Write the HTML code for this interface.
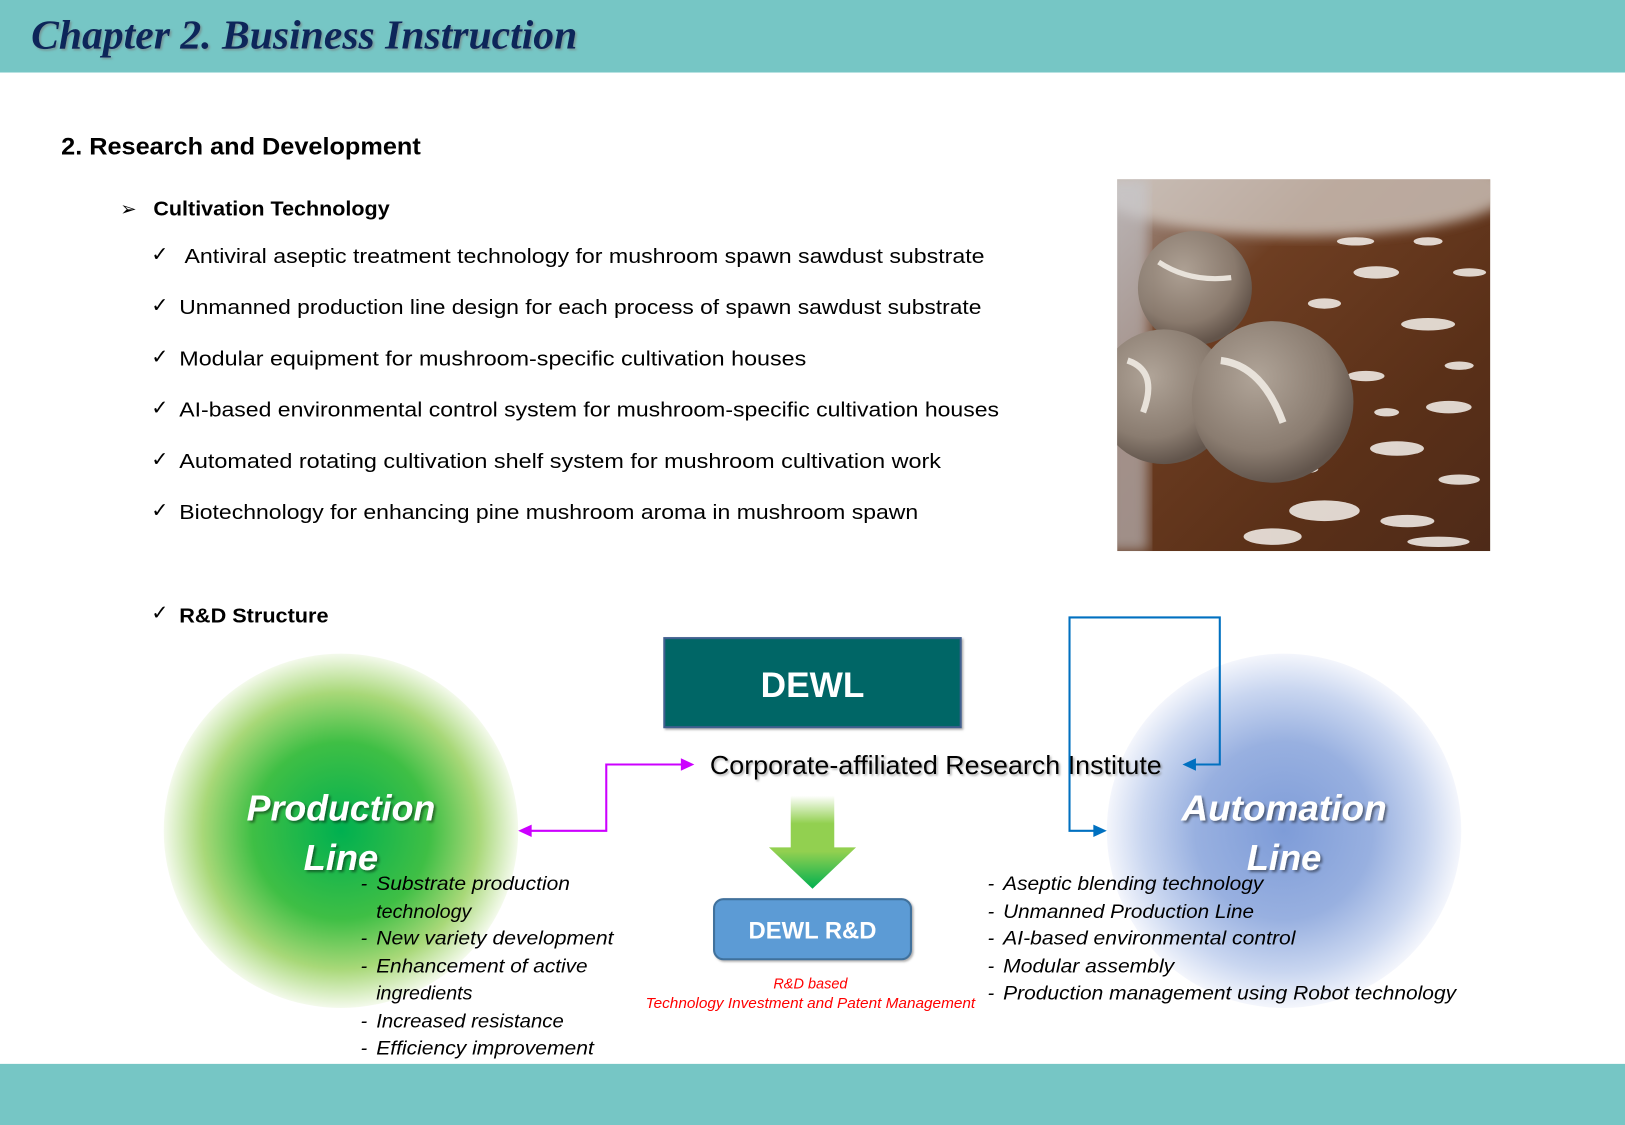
<!DOCTYPE html>
<html><head><meta charset="utf-8"><style>
html,body{margin:0;padding:0;background:#fff;}
svg{display:block;}
text{font-family:"Liberation Sans",sans-serif;}
</style></head><body>
<svg width="1625" height="1125" viewBox="0 0 1568 1086" preserveAspectRatio="none" xmlns="http://www.w3.org/2000/svg">
<defs>
<radialGradient id="gc" cx="0.5" cy="0.5" r="0.5">
<stop offset="0" stop-color="#00B050"/><stop offset="0.5" stop-color="#3FBF45"/><stop offset="0.78" stop-color="#A8D878"/><stop offset="1" stop-color="#F4FAEC"/>
</radialGradient>
<radialGradient id="bc" cx="0.5" cy="0.5" r="0.5">
<stop offset="0" stop-color="#7E9CD8"/><stop offset="0.5" stop-color="#98B0E0"/><stop offset="0.8" stop-color="#C9D6F0"/><stop offset="1" stop-color="#F4F6FC"/>
</radialGradient>
<linearGradient id="ga" x1="0" y1="0" x2="0" y2="1">
<stop offset="0" stop-color="#FFFFFF"/><stop offset="0.3" stop-color="#92D050"/><stop offset="0.6" stop-color="#92D050"/><stop offset="1" stop-color="#00B050"/>
</linearGradient>
<linearGradient id="bg" x1="0" y1="0" x2="1" y2="1">
<stop offset="0" stop-color="#A89890"/><stop offset="0.3" stop-color="#6E3E22"/><stop offset="0.7" stop-color="#5A3018"/><stop offset="1" stop-color="#4E2A18"/>
</linearGradient>
<radialGradient id="ms" cx="0.4" cy="0.35" r="0.65">
<stop offset="0" stop-color="#B0A498"/><stop offset="0.7" stop-color="#8A7C70"/><stop offset="1" stop-color="#62554C"/>
</radialGradient>
<filter id="sh"><feDropShadow dx="2" dy="2" stdDeviation="1.2" flood-color="#000" flood-opacity="0.45"/></filter>
<filter id="sh2"><feDropShadow dx="1.5" dy="1.5" stdDeviation="1" flood-color="#777" flood-opacity="0.6"/></filter>
<filter id="bl"><feGaussianBlur stdDeviation="6"/></filter>
</defs>
<rect x="0" y="0" width="1568" height="70" fill="#76C6C5"/>
<rect x="0" y="1027" width="1568" height="59" fill="#76C6C5"/>
<text x="30" y="47" style="font-family:'Liberation Serif',serif" font-weight="bold" font-style="italic" font-size="40" fill="#10285A" textLength="527" lengthAdjust="spacingAndGlyphs" filter="url(#sh2)">Chapter 2. Business Instruction</text>

<text x="59" y="149" font-weight="bold" font-size="23" fill="#000" textLength="347" lengthAdjust="spacingAndGlyphs">2. Research and Development</text>
<text x="116" y="208" font-size="19" fill="#000">➢</text>
<text x="148" y="208" font-weight="bold" font-size="20" textLength="228" lengthAdjust="spacingAndGlyphs">Cultivation Technology</text>
<g font-size="20" fill="#000">
<text x="146" y="252">✓</text><text x="178" y="254" textLength="772" lengthAdjust="spacingAndGlyphs">Antiviral aseptic treatment technology for mushroom spawn sawdust substrate</text>
<text x="146" y="301">✓</text><text x="173" y="303" textLength="774" lengthAdjust="spacingAndGlyphs">Unmanned production line design for each process of spawn sawdust substrate</text>
<text x="146" y="351">✓</text><text x="173" y="353" textLength="605" lengthAdjust="spacingAndGlyphs">Modular equipment for mushroom-specific cultivation houses</text>
<text x="146" y="400">✓</text><text x="173" y="402" textLength="791" lengthAdjust="spacingAndGlyphs">AI-based environmental control system for mushroom-specific cultivation houses</text>
<text x="146" y="450">✓</text><text x="173" y="452" textLength="735" lengthAdjust="spacingAndGlyphs">Automated rotating cultivation shelf system for mushroom cultivation work</text>
<text x="146" y="499">✓</text><text x="173" y="501" textLength="713" lengthAdjust="spacingAndGlyphs">Biotechnology for enhancing pine mushroom aroma in mushroom spawn</text>
<text x="146" y="598">✓</text><text x="173" y="601" font-weight="bold" textLength="144" lengthAdjust="spacingAndGlyphs">R&amp;D Structure</text>
</g>

<!-- mushroom photo -->
<svg x="1078" y="173" width="360" height="359" viewBox="0 0 360 359">
<rect width="360" height="359" fill="url(#bg)"/>
<ellipse cx="180" cy="10" rx="200" ry="45" fill="#D0C6BE" opacity="0.8" filter="url(#bl)"/>
<rect x="-10" y="0" width="40" height="359" fill="#C8CAD0" opacity="0.6" filter="url(#bl)"/>
<g fill="#EEE8E2" opacity="0.9">
<ellipse cx="250" cy="90" rx="22" ry="6"/><ellipse cx="300" cy="140" rx="26" ry="6"/><ellipse cx="200" cy="120" rx="16" ry="5"/>
<ellipse cx="320" cy="220" rx="22" ry="6"/><ellipse cx="270" cy="260" rx="26" ry="7"/><ellipse cx="330" cy="290" rx="20" ry="5"/>
<ellipse cx="200" cy="320" rx="34" ry="10"/><ellipse cx="280" cy="330" rx="26" ry="6"/><ellipse cx="150" cy="345" rx="28" ry="8"/>
<ellipse cx="340" cy="90" rx="16" ry="4"/><ellipse cx="240" cy="190" rx="18" ry="5"/><ellipse cx="330" cy="180" rx="14" ry="4"/>
<ellipse cx="230" cy="60" rx="18" ry="4"/><ellipse cx="300" cy="60" rx="14" ry="4"/><ellipse cx="260" cy="225" rx="12" ry="4"/>
<ellipse cx="310" cy="350" rx="30" ry="5"/><ellipse cx="180" cy="280" rx="14" ry="4"/>
</g>
<circle cx="75" cy="105" r="55" fill="url(#ms)" opacity="0.95"/>
<circle cx="45" cy="210" r="65" fill="url(#ms)"/>
<circle cx="150" cy="215" r="78" fill="url(#ms)"/>
<path d="M100 175 Q140 180 160 235" stroke="#E8E2DA" stroke-width="7" fill="none"/>
<path d="M10 175 Q40 185 25 225" stroke="#E8E2DA" stroke-width="6" fill="none"/>
<path d="M40 80 Q70 100 110 95" stroke="#E8E2DA" stroke-width="5" fill="none"/>
</svg>

<!-- circles -->
<circle cx="329" cy="802" r="171" fill="url(#gc)"/>
<circle cx="1239" cy="802" r="171" fill="url(#bc)"/>

<!-- DEWL box -->
<rect x="641" y="616" width="286" height="86" fill="#006666" stroke="#3F5F8F" stroke-width="2" filter="url(#sh2)"/>
<text x="784" y="673" text-anchor="middle" font-weight="bold" font-size="34" fill="#fff">DEWL</text>

<text x="685" y="747" font-size="25" fill="#000" textLength="436" lengthAdjust="spacingAndGlyphs" filter="url(#sh2)">Corporate-affiliated Research Institute</text>

<!-- magenta connector -->
<polyline points="512,802 585,802 585,738 658,738" fill="none" stroke="#CC00FF" stroke-width="2"/>
<polygon points="500,802 513,796 513,808" fill="#CC00FF"/>
<polygon points="670,738 657,732 657,744" fill="#CC00FF"/>

<!-- blue connector -->
<polyline points="1153,738 1177,738 1177,596 1032,596 1032,802 1056,802" fill="none" stroke="#0070C0" stroke-width="2"/>
<polygon points="1141,738 1154,732 1154,744" fill="#0070C0"/>
<polygon points="1068,802 1055,796 1055,808" fill="#0070C0"/>

<!-- green arrow -->
<polygon points="763,768 805,768 805,818 826,818 784,858 742,818 763,818" fill="url(#ga)"/>

<!-- DEWL R&D -->
<rect x="689" y="868" width="190" height="58" rx="9" fill="#5B9BD5" stroke="#41719C" stroke-width="2" filter="url(#sh2)"/>
<text x="784" y="906" text-anchor="middle" font-weight="bold" font-size="23" fill="#fff">DEWL R&amp;D</text>
<g font-style="italic" font-size="14" fill="#FF0000" text-anchor="middle">
<text x="782" y="954">R&amp;D based</text>
<text x="782" y="973" textLength="318" lengthAdjust="spacingAndGlyphs">Technology Investment and Patent Management</text>
</g>

<!-- circle titles -->
<g font-weight="bold" font-style="italic" font-size="35" fill="#fff" text-anchor="middle" filter="url(#sh)">
<text x="329" y="792" textLength="182" lengthAdjust="spacingAndGlyphs">Production</text>
<text x="329" y="840">Line</text>
<text x="1239" y="792" textLength="198" lengthAdjust="spacingAndGlyphs">Automation</text>
<text x="1239" y="840">Line</text>
</g>

<!-- lists -->
<g font-style="italic" font-size="19" fill="#000">
<text x="348" y="859">-</text><text x="363" y="859" textLength="187" lengthAdjust="spacingAndGlyphs">Substrate production</text>
<text x="363" y="886">technology</text>
<text x="348" y="912">-</text><text x="363" y="912" textLength="229" lengthAdjust="spacingAndGlyphs">New variety development</text>
<text x="348" y="939">-</text><text x="363" y="939" textLength="204" lengthAdjust="spacingAndGlyphs">Enhancement of active</text>
<text x="363" y="965">ingredients</text>
<text x="348" y="992">-</text><text x="363" y="992" textLength="181" lengthAdjust="spacingAndGlyphs">Increased resistance</text>
<text x="348" y="1018">-</text><text x="363" y="1018" textLength="210" lengthAdjust="spacingAndGlyphs">Efficiency improvement</text>

<text x="953" y="859">-</text><text x="968" y="859" textLength="251" lengthAdjust="spacingAndGlyphs">Aseptic blending technology</text>
<text x="953" y="886">-</text><text x="968" y="886" textLength="242" lengthAdjust="spacingAndGlyphs">Unmanned Production Line</text>
<text x="953" y="912">-</text><text x="968" y="912" textLength="282" lengthAdjust="spacingAndGlyphs">AI-based environmental control</text>
<text x="953" y="939">-</text><text x="968" y="939" textLength="165" lengthAdjust="spacingAndGlyphs">Modular assembly</text>
<text x="953" y="965">-</text><text x="968" y="965" textLength="437" lengthAdjust="spacingAndGlyphs">Production management using Robot technology</text>
</g>
</svg>
</body></html>
